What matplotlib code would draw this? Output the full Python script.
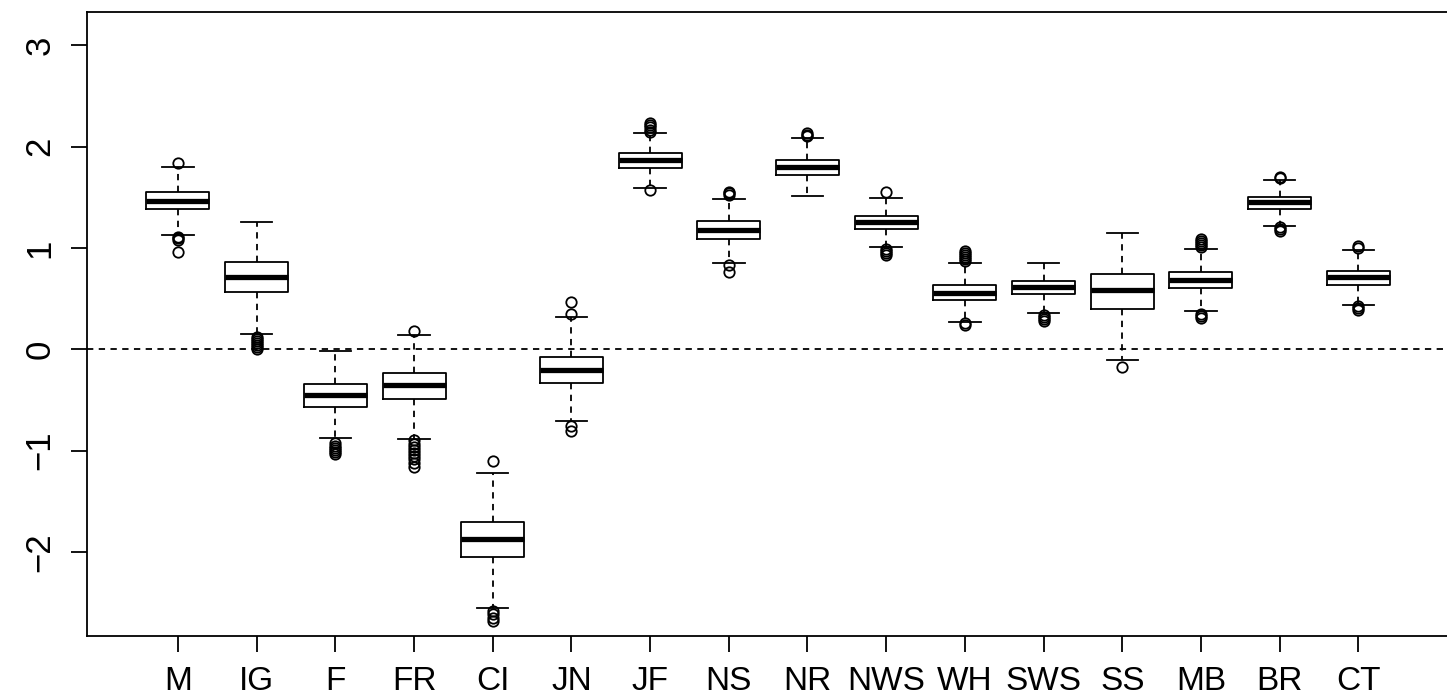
import matplotlib
matplotlib.use("Agg")
import matplotlib.pyplot as plt

categories = ["M", "IG", "F", "FR", "CI", "JN", "JF", "NS", "NR", "NWS",
              "WH", "SWS", "SS", "MB", "BR", "CT"]
whislo = [1.131, 0.148, -0.876, -0.885, -2.551, -0.711, 1.589, 0.852, 1.513, 1.007,
          0.270, 0.358, -0.105, 0.375, 1.220, 0.437]
q1 = [1.382, 0.569, -0.573, -0.494, -2.053, -0.336, 1.793, 1.089, 1.721, 1.188,
      0.484, 0.543, 0.398, 0.602, 1.385, 0.635]
med = [1.467, 0.711, -0.454, -0.353, -1.876, -0.201, 1.866, 1.178, 1.797, 1.254,
       0.559, 0.612, 0.588, 0.684, 1.451, 0.711]
q3 = [1.550, 0.862, -0.343, -0.231, -1.705, -0.073, 1.938, 1.267, 1.869, 1.319,
      0.635, 0.674, 0.743, 0.760, 1.507, 0.776]
whishi = [1.800, 1.260, -0.014, 0.138, -1.224, 0.316, 2.135, 1.484, 2.086, 1.494,
          0.852, 0.852, 1.145, 0.987, 1.671, 0.980]
fliers = [
    [1.84, 1.11, 1.10, 1.08, 0.96],
    [0.12, 0.10, 0.08, 0.06, 0.04, 0.02, 0.00],
    [-0.92, -0.95, -0.97, -0.99, -1.01, -1.03],
    [0.18, -0.90, -0.93, -0.96, -0.99, -1.02, -1.05, -1.08, -1.12, -1.16],
    [-1.10, -2.58, -2.61, -2.65, -2.68],
    [0.47, 0.35, -0.76, -0.81],
    [2.15, 2.17, 2.19, 2.21, 2.23, 1.575],
    [1.52, 1.54, 1.55, 0.83, 0.76],
    [2.11, 2.12, 2.14],
    [1.55, 0.99, 0.97, 0.95, 0.93],
    [0.87, 0.89, 0.91, 0.93, 0.95, 0.97, 0.26, 0.24],
    [0.34, 0.32, 0.30, 0.28],
    [-0.175],
    [1.01, 1.03, 1.05, 1.07, 1.09, 0.35, 0.33, 0.31],
    [1.69, 1.70, 1.21, 1.19, 1.17],
    [1.00, 1.02, 0.43, 0.41, 0.39],
]
yticks = [-2, -1, 0, 1, 2, 3]
ytick_labels = ["\u22122", "\u22121", "0", "1", "2", "3"]

plt.rcParams['font.family'] = ['Liberation Sans', 'DejaVu Sans']

W, H = 1447, 700
fig = plt.figure(figsize=(W / 100, H / 100), dpi=100)
left, right, top, bottom = 87.3, 1449.0, 12.3, 635.7
ax = fig.add_axes([left / W, 1 - bottom / H, (right - left) / W, (bottom - top) / H])

stats = []
for i, c in enumerate(categories):
    stats.append(dict(label=c, whislo=whislo[i], q1=q1[i], med=med[i], q3=q3[i],
                      whishi=whishi[i], fliers=fliers[i]))

positions = list(range(1, len(categories) + 1))
lw = 1.3
dash = (0, (3.5, 3))
ax.bxp(stats, positions=positions, widths=0.8, capwidths=0.4, showfliers=True,
       boxprops=dict(color="black", linewidth=lw),
       medianprops=dict(color="black", linewidth=3.8, solid_capstyle="butt"),
       whiskerprops=dict(color="black", linewidth=lw, linestyle=dash),
       capprops=dict(color="black", linewidth=lw),
       flierprops=dict(marker="o", markerfacecolor="none", markeredgecolor="black",
                       markersize=7.5, markeredgewidth=1.3, linestyle="none"))

ax.axhline(0, color="black", linewidth=lw, linestyle=dash, zorder=0)

ax.set_xlim(-0.152, 17.152)
ax.set_ylim(-2.827, 3.327)
ax.set_xticks(positions)
ax.set_xticklabels(categories, fontsize=24)
ax.set_yticks(yticks)
ax.set_yticklabels(ytick_labels, fontsize=25, rotation=90, va="center")
ax.tick_params(axis="both", direction="out", length=11.5, width=lw, color="black")
ax.tick_params(axis="x", pad=10.5)
ax.tick_params(axis="y", pad=10.5)
for s in ax.spines.values():
    s.set_linewidth(lw)
    s.set_color("black")

fig.savefig("out.png", dpi=100)
